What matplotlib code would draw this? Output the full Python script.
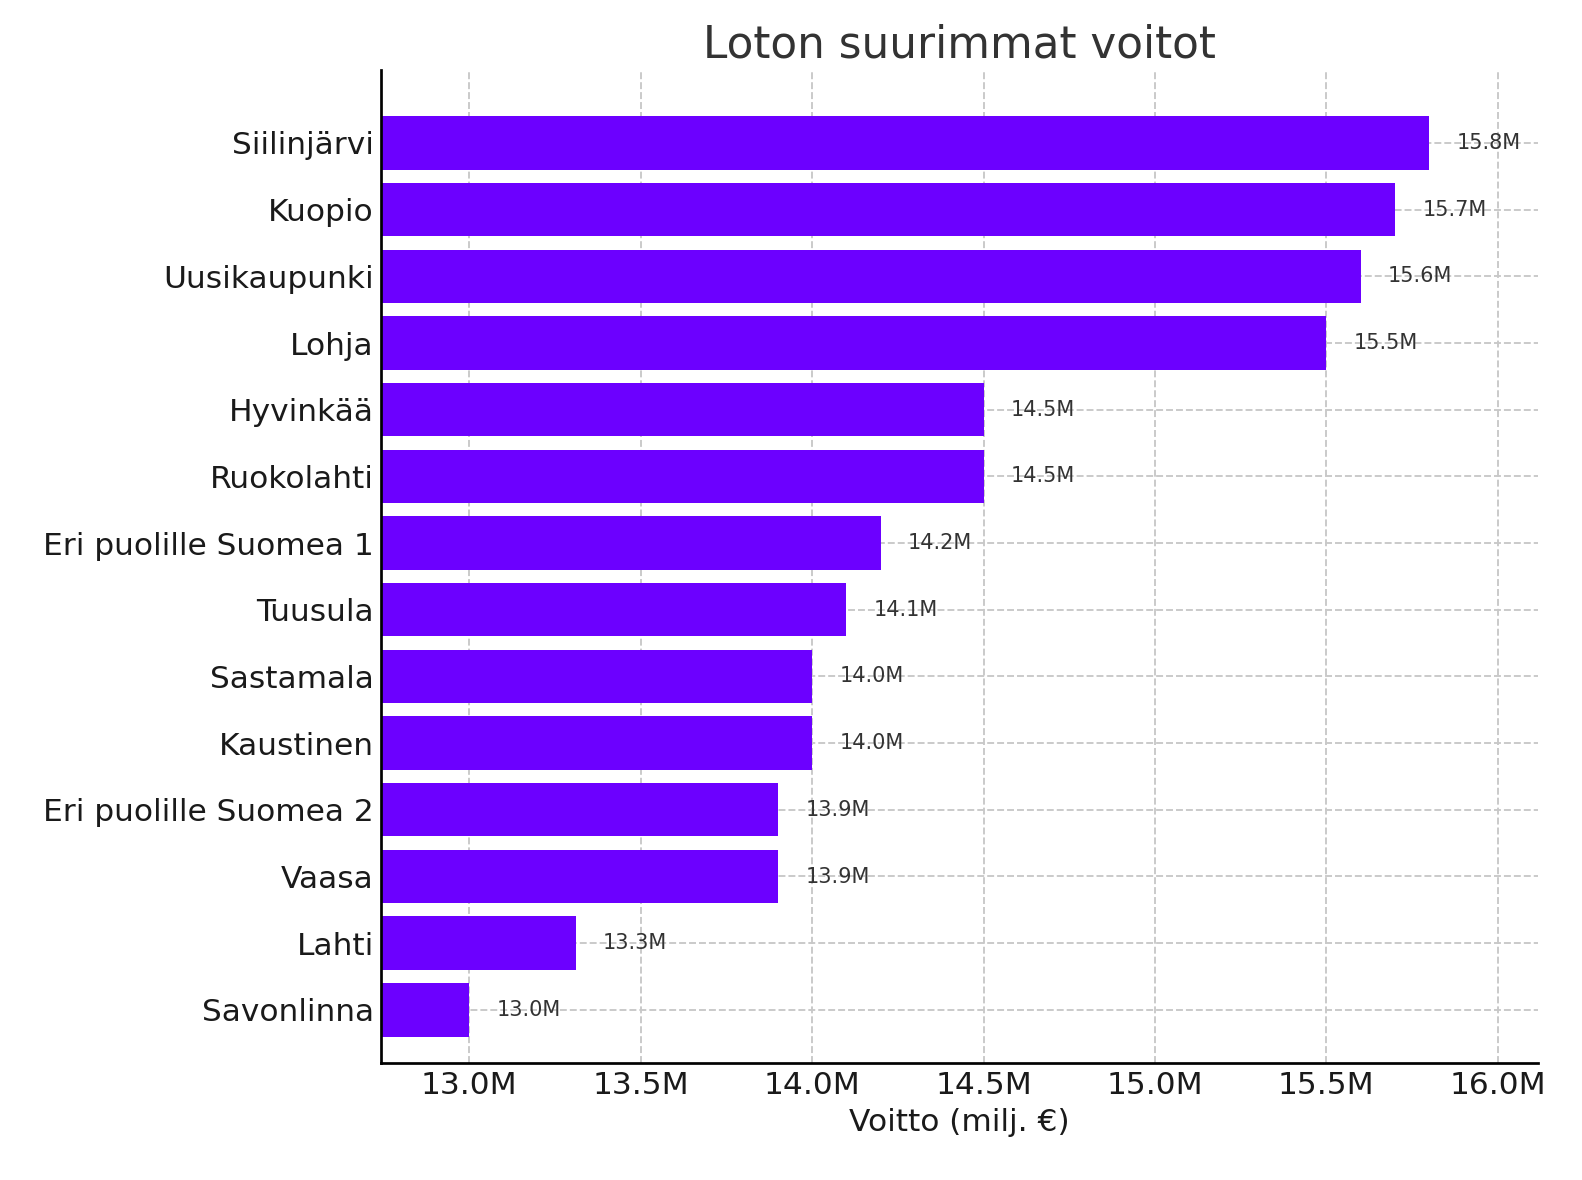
import matplotlib.pyplot as plt

cities = ["Siilinjärvi", "Kuopio", "Uusikaupunki", "Lohja", "Hyvinkää", "Ruokolahti",
          "Eri puolille Suomea 1", "Tuusula", "Sastamala", "Kaustinen",
          "Eri puolille Suomea 2", "Vaasa", "Lahti", "Savonlinna"]
wins = [15.8, 15.7, 15.6, 15.5, 14.5, 14.5, 14.2, 14.1, 14.0, 14.0, 13.9, 13.9, 13.31, 13.0]
ticks = [13.0, 13.5, 14.0, 14.5, 15.0, 15.5, 16.0]

fig = plt.figure(figsize=(10.547, 7.867), dpi=150)
ax = fig.add_axes([0.241, 0.099, 0.731, 0.842])

ax.barh(cities, wins, color="#6C00FF", height=0.8, zorder=2)
ax.invert_yaxis()
ax.set_xlim(12.743, 16.117)
ax.set_ylim(13.8, -1.1)

for i, v in enumerate(wins):
    ax.text(v + 0.08, i, f"{v:.1f}M", va="center", ha="left", fontsize=10, color="#333333")

ax.set_xticks(ticks)
ax.set_xticklabels([f"{t:.1f}M" for t in ticks])
ax.tick_params(labelsize=15, length=0, colors="#1a1a1a")
ax.grid(True, linestyle="--", color="#c8c8c8", linewidth=0.9, zorder=0)
ax.set_axisbelow(True)
for s in ["top", "right"]:
    ax.spines[s].set_visible(False)
ax.spines["left"].set_linewidth(1.3)
ax.spines["bottom"].set_linewidth(1.3)

ax.set_xlabel("Voitto (milj. €)", fontsize=15, color="#1a1a1a")
ax.set_title("Loton suurimmat voitot", fontsize=21, color="#333333")

fig.savefig("out.png")
